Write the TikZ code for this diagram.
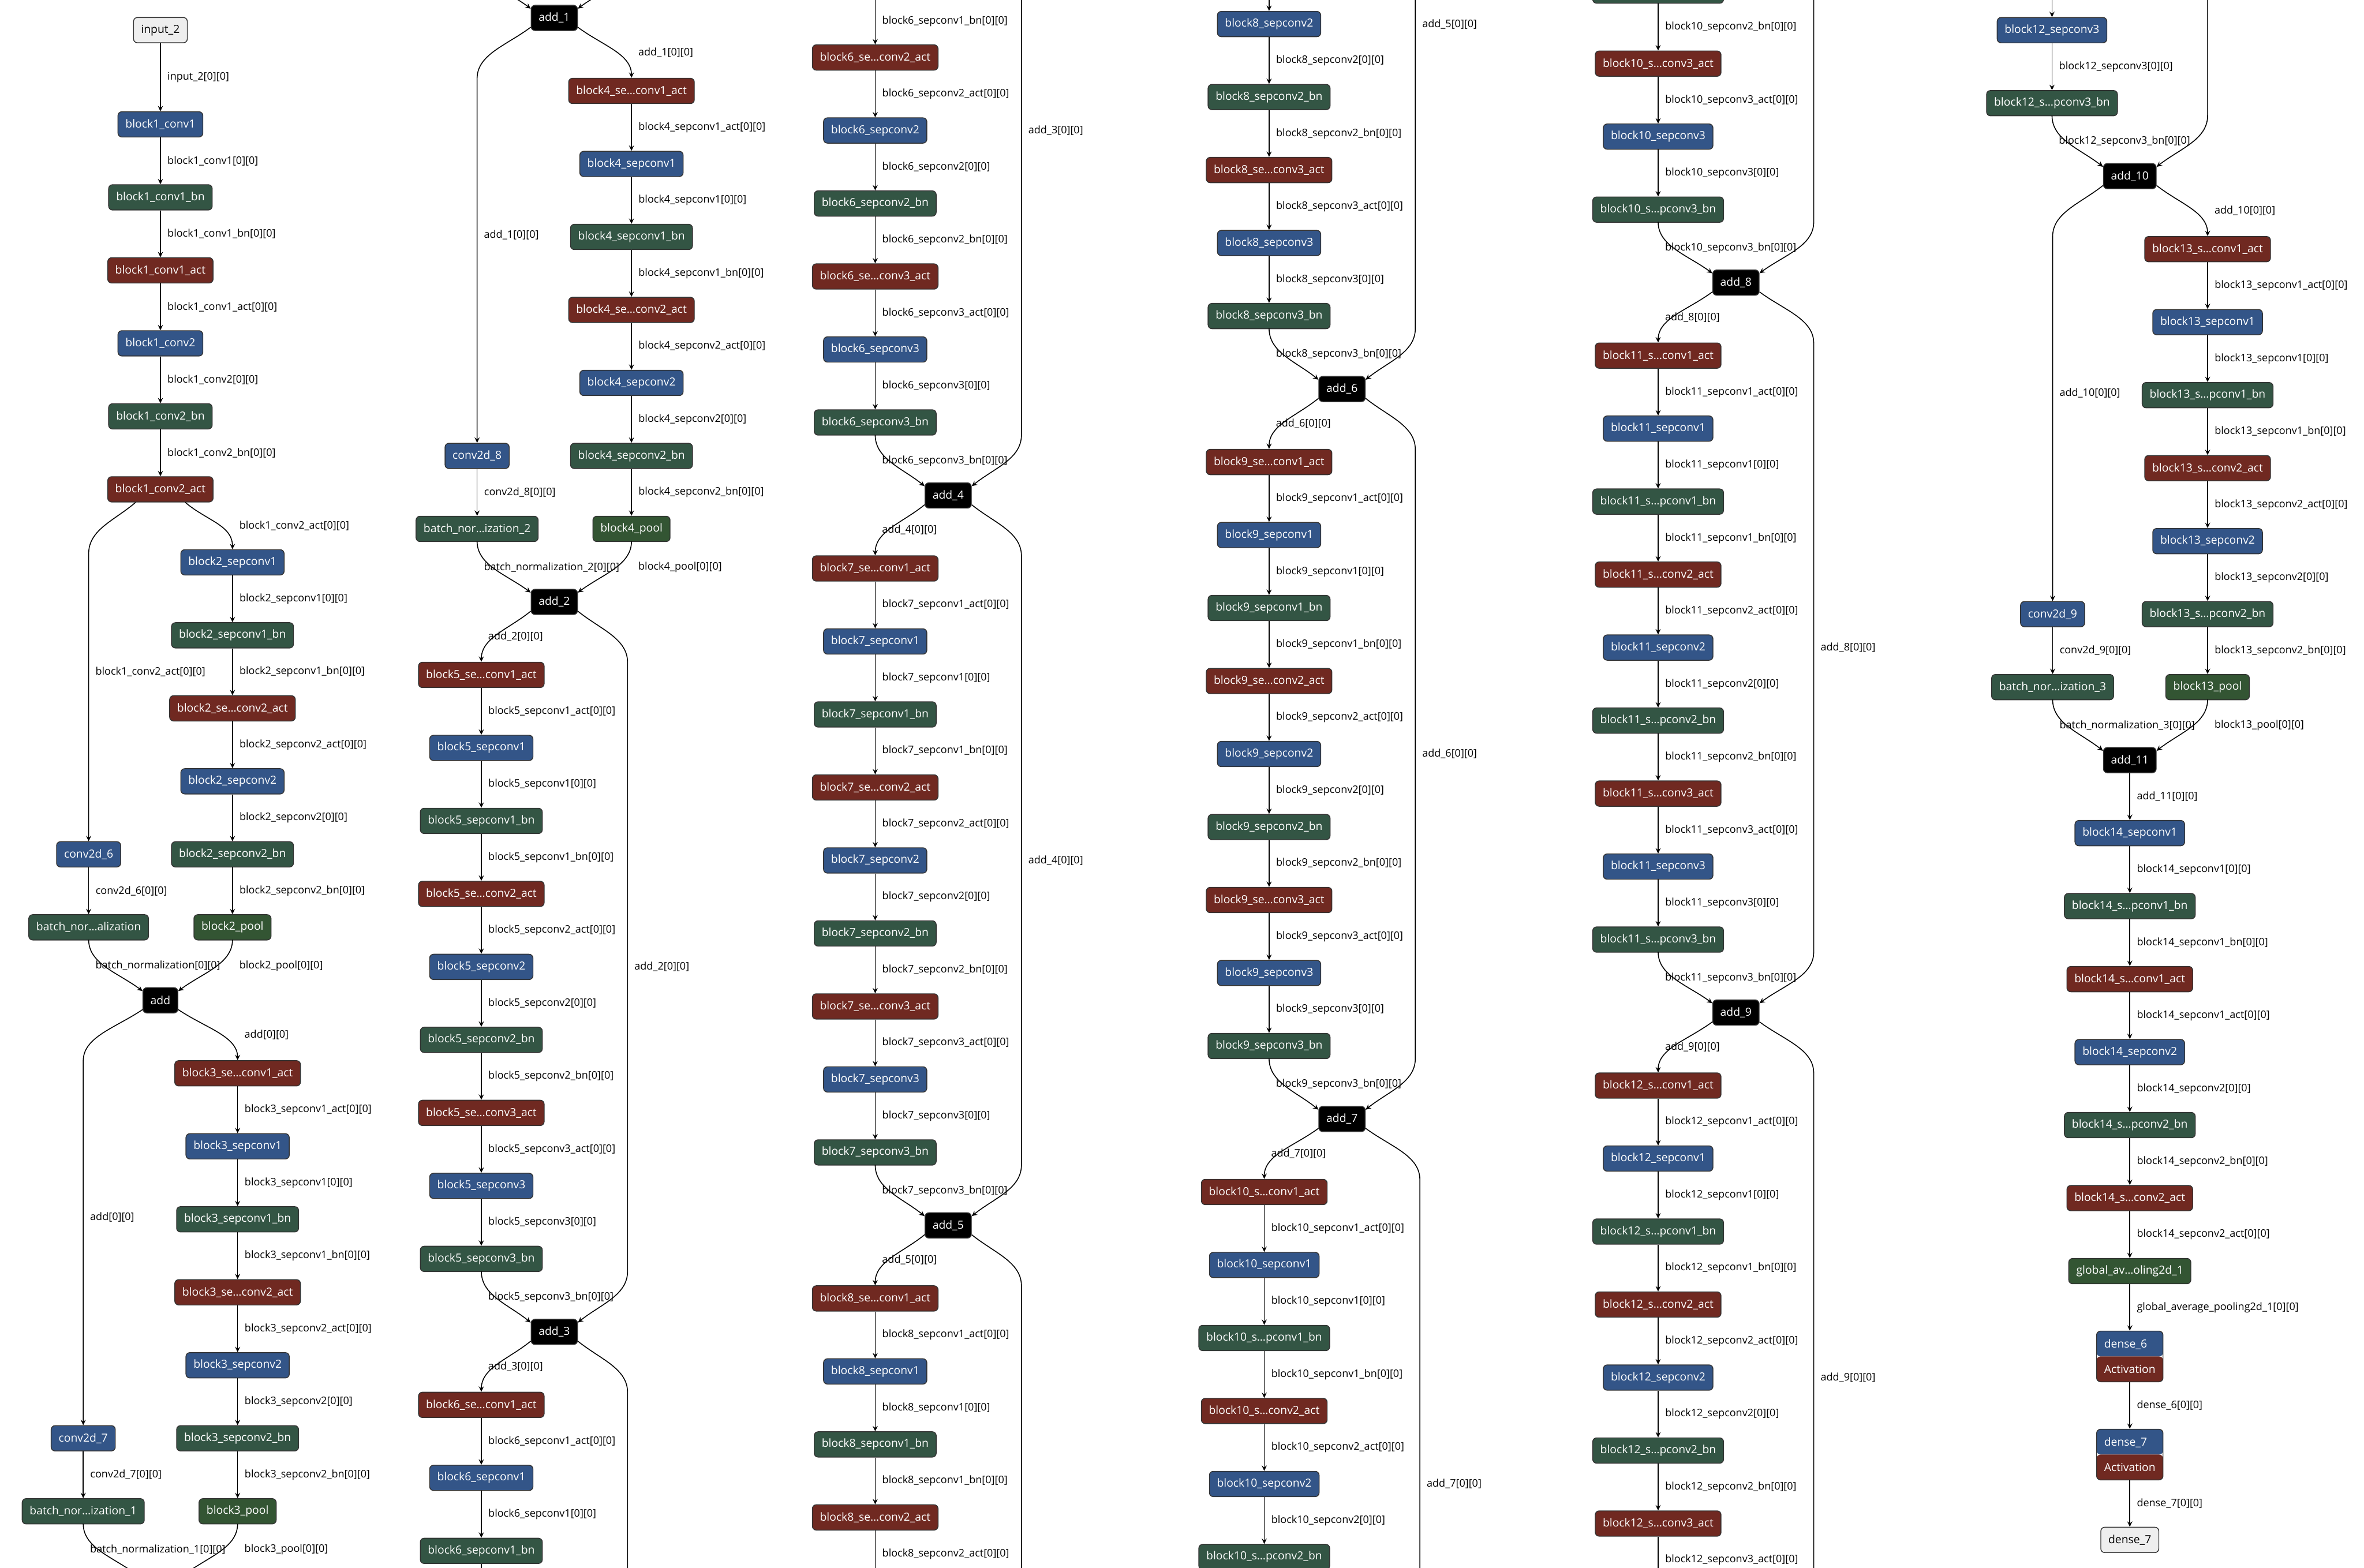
\documentclass[tikz,border=0pt]{standalone}
\usepackage{fontspec}
\setmainfont{Open Sans}
\usetikzlibrary{calc,arrows.meta}

\definecolor{layercol}{RGB}{51,85,136}
\definecolor{actcol}{RGB}{112,41,33}
\definecolor{normcol}{RGB}{51,85,68}
\definecolor{poolcol}{RGB}{51,85,51}
\definecolor{iocol}{RGB}{238,238,238}
\definecolor{rimcol}{RGB}{51,51,51}

% row number -> y of the one long graph (cut into six columns)
\newcommand\R[1]{(82.5+48.42*(#1))}

\tikzset{
  op/.style={rounded corners=2.6pt, draw=rimcol, line width=0.55pt, text=white,
    minimum height=16.8pt, inner xsep=5pt, inner ysep=0pt,
    font=\fontsize{7.4pt}{9pt}\selectfont},
  layer/.style={op, fill=layercol},
  act/.style={op, fill=actcol},
  norm/.style={op, fill=normcol},
  pool/.style={op, fill=poolcol},
  addop/.style={op, fill=black},
  io/.style={op, fill=iocol, text=black},
  dense/.style={op, minimum height=33.6pt, align=left,
    font=\fontsize{7.4pt}{16.8pt}\selectfont,
    path picture={
      \fill[layercol] (path picture bounding box.north west) rectangle (path picture bounding box.east);
      \fill[actcol] (path picture bounding box.west) rectangle (path picture bounding box.south east);}},
  link/.style={-{Stealth[length=3.6pt,width=3.4pt,inset=1.3pt]}, line width=0.6pt},
  tag/.style={anchor=west, inner sep=0pt, xshift=4.4pt, font=\fontsize{6.9pt}{9pt}\selectfont},
  next col/.style={shift={(261.25,-1039)}},
  prev col/.style={shift={(-261.25,1039)}},
}

\newcommand\lnk[2]{\draw[link] (#1.south) -- node[tag] {#1[0][0]} (#2.north);}
\newcommand\tagat[2]{\if\relax\detokenize{#2}\relax\else\node[tag] at (#1) {#2};\fi}
\newcommand\spl[3]{%
  \draw[link] (#1) .. controls ($(#1)!.45!(#1-|#2)+(0,12)$) and ($(#2)+(0,-16)$) .. (#2);
  \tagat{$(#2)!.5!(#2|-#1)$}{#3}}
\newcommand\splong[3]{%
  \draw[link] (#1) .. controls ($(#1)!.45!(#1-|#2)+(0,12)$) and ($(#1-|#2)+(0,18)$)
    .. ($(#1-|#2)+(0,34)$) -- (#2);
  \tagat{$(#2)!.5!(#2|-#1)$}{#3}}
\newcommand\mrg[3]{%
  \draw[link] (#1) -- ($(#2-|#1)+(0,-34)$) .. controls ($(#2-|#1)+(0,-18)$)
    and ($(#2)!.45!(#2-|#1)+(0,-12)$) .. (#2);
  \tagat{$(#1)!.5!(#1|-#2)$}{#3}}
\newcommand\bypass[4]{%
  \draw[link] (#1) .. controls ($(#1)!.45!(#1-|#3)+(0,12)$) and ($(#1-|#3)+(0,18)$)
    .. ($(#1-|#3)+(0,34)$) -- ($(#2-|#3)+(0,-34)$) .. controls ($(#2-|#3)+(0,-18)$)
    and ($(#2)!.45!(#2-|#3)+(0,-12)$) .. (#2);
  \tagat{$(#1-|#3)!.5!(#2-|#3)$}{#4}}
\newcommand\corners[1]{%
  \coordinate (#1_nw) at ([yshift=-2.5pt]#1.north west);
  \coordinate (#1_ne) at ([yshift=-2.5pt]#1.north east);
  \coordinate (#1_sw) at ([yshift=2.5pt]#1.south west);
  \coordinate (#1_se) at ([yshift=2.5pt]#1.south east);}

\begin{document}
\catcode`\_=12
\begin{tikzpicture}[x=1pt,y=-1pt]
\useasboundingbox (0,0) rectangle (1568,1040);
\fill[white] (0,0) rectangle (1568,1040);
\clip (0,0) rectangle (1568,1040);

% column 1
\node[io] (input_2) at (106.4,20) {input_2};
\foreach \s/\n/\t [count=\i from 0] in {layer/block1_conv1/block1_conv1,
  norm/block1_conv1_bn/block1_conv1_bn, act/block1_conv1_act/block1_conv1_act,
  layer/block1_conv2/block1_conv2, norm/block1_conv2_bn/block1_conv2_bn,
  act/block1_conv2_act/block1_conv2_act}
  \node[\s] (\n) at (106.4,{\R{\i}}) {\t};
\foreach \s/\n/\t [count=\i from 6] in {layer/block2_sepconv1/block2_sepconv1,
  norm/block2_sepconv1_bn/block2_sepconv1_bn, act/block2_sepconv2_act/block2_se…conv2_act,
  layer/block2_sepconv2/block2_sepconv2, norm/block2_sepconv2_bn/block2_sepconv2_bn,
  pool/block2_pool/block2_pool}
  \node[\s] (\n) at (154.2,{\R{\i}}) {\t};
\node[layer] (conv2d_6) at (58.8,{\R{10}}) {conv2d_6};
\node[norm] (batch_normalization) at (58.8,{\R{11}}) {batch_nor…alization};
\node[addop] (add) at (106.4,{\R{12}}) {add};
\foreach \s/\n/\t [count=\i from 13] in {act/block3_sepconv1_act/block3_se…conv1_act,
  layer/block3_sepconv1/block3_sepconv1, norm/block3_sepconv1_bn/block3_sepconv1_bn,
  act/block3_sepconv2_act/block3_se…conv2_act, layer/block3_sepconv2/block3_sepconv2,
  norm/block3_sepconv2_bn/block3_sepconv2_bn, pool/block3_pool/block3_pool}
  \node[\s] (\n) at (157.6,{\R{\i}}) {\t};
\node[layer] (conv2d_7) at (55.2,{\R{18}}) {conv2d_7};
\node[norm] (batch_normalization_1) at (55.2,{\R{19}}) {batch_nor…ization_1};

% column 2
\begin{scope}[shift={(261.25,-1039)}]
\node[addop] (add_1) at (106.4,{\R{20}}) {add_1};
\foreach \s/\n/\t [count=\i from 21] in {act/block4_sepconv1_act/block4_se…conv1_act,
  layer/block4_sepconv1/block4_sepconv1, norm/block4_sepconv1_bn/block4_sepconv1_bn,
  act/block4_sepconv2_act/block4_se…conv2_act, layer/block4_sepconv2/block4_sepconv2,
  norm/block4_sepconv2_bn/block4_sepconv2_bn, pool/block4_pool/block4_pool}
  \node[\s] (\n) at (157.6,{\R{\i}}) {\t};
\node[layer] (conv2d_8) at (55.2,{\R{26}}) {conv2d_8};
\node[norm] (batch_normalization_2) at (55.2,{\R{27}}) {batch_nor…ization_2};
\node[addop] (add_2) at (106.4,{\R{28}}) {add_2};
\foreach \s/\n/\t [count=\i from 29] in {act/block5_sepconv1_act/block5_se…conv1_act,
  layer/block5_sepconv1/block5_sepconv1, norm/block5_sepconv1_bn/block5_sepconv1_bn,
  act/block5_sepconv2_act/block5_se…conv2_act, layer/block5_sepconv2/block5_sepconv2,
  norm/block5_sepconv2_bn/block5_sepconv2_bn, act/block5_sepconv3_act/block5_se…conv3_act,
  layer/block5_sepconv3/block5_sepconv3, norm/block5_sepconv3_bn/block5_sepconv3_bn}
  \node[\s] (\n) at (58,{\R{\i}}) {\t};
\node[addop] (add_3) at (106.4,{\R{38}}) {add_3};
\foreach \s/\n/\t [count=\i from 39] in {act/block6_sepconv1_act/block6_se…conv1_act,
  layer/block6_sepconv1/block6_sepconv1, norm/block6_sepconv1_bn/block6_sepconv1_bn}
  \node[\s] (\n) at (58,{\R{\i}}) {\t};
\coordinate (rail2) at (155,0);
\end{scope}

% column 3
\begin{scope}[shift={(522.5,-2078)}]
\foreach \s/\n/\t [count=\i from 42] in {act/block6_sepconv2_act/block6_se…conv2_act,
  layer/block6_sepconv2/block6_sepconv2, norm/block6_sepconv2_bn/block6_sepconv2_bn,
  act/block6_sepconv3_act/block6_se…conv3_act, layer/block6_sepconv3/block6_sepconv3,
  norm/block6_sepconv3_bn/block6_sepconv3_bn}
  \node[\s] (\n) at (58,{\R{\i}}) {\t};
\node[addop] (add_4) at (106.4,{\R{48}}) {add_4};
\foreach \s/\n/\t [count=\i from 49] in {act/block7_sepconv1_act/block7_se…conv1_act,
  layer/block7_sepconv1/block7_sepconv1, norm/block7_sepconv1_bn/block7_sepconv1_bn,
  act/block7_sepconv2_act/block7_se…conv2_act, layer/block7_sepconv2/block7_sepconv2,
  norm/block7_sepconv2_bn/block7_sepconv2_bn, act/block7_sepconv3_act/block7_se…conv3_act,
  layer/block7_sepconv3/block7_sepconv3, norm/block7_sepconv3_bn/block7_sepconv3_bn}
  \node[\s] (\n) at (58,{\R{\i}}) {\t};
\node[addop] (add_5) at (106.4,{\R{58}}) {add_5};
\foreach \s/\n/\t [count=\i from 59] in {act/block8_sepconv1_act/block8_se…conv1_act,
  layer/block8_sepconv1/block8_sepconv1, norm/block8_sepconv1_bn/block8_sepconv1_bn,
  act/block8_sepconv2_act/block8_se…conv2_act}
  \node[\s] (\n) at (58,{\R{\i}}) {\t};
\coordinate (rail3) at (155,0);
\end{scope}

% column 4
\begin{scope}[shift={(783.75,-3117)}]
\foreach \s/\n/\t [count=\i from 63] in {layer/block8_sepconv2/block8_sepconv2,
  norm/block8_sepconv2_bn/block8_sepconv2_bn, act/block8_sepconv3_act/block8_se…conv3_act,
  layer/block8_sepconv3/block8_sepconv3, norm/block8_sepconv3_bn/block8_sepconv3_bn}
  \node[\s] (\n) at (58,{\R{\i}}) {\t};
\node[addop] (add_6) at (106.4,{\R{68}}) {add_6};
\foreach \s/\n/\t [count=\i from 69] in {act/block9_sepconv1_act/block9_se…conv1_act,
  layer/block9_sepconv1/block9_sepconv1, norm/block9_sepconv1_bn/block9_sepconv1_bn,
  act/block9_sepconv2_act/block9_se…conv2_act, layer/block9_sepconv2/block9_sepconv2,
  norm/block9_sepconv2_bn/block9_sepconv2_bn, act/block9_sepconv3_act/block9_se…conv3_act,
  layer/block9_sepconv3/block9_sepconv3, norm/block9_sepconv3_bn/block9_sepconv3_bn}
  \node[\s] (\n) at (58,{\R{\i}}) {\t};
\node[addop] (add_7) at (106.4,{\R{78}}) {add_7};
\foreach \s/\n/\t [count=\i from 79] in {act/block10_sepconv1_act/block10_s…conv1_act,
  layer/block10_sepconv1/block10_sepconv1, norm/block10_sepconv1_bn/block10_s…pconv1_bn,
  act/block10_sepconv2_act/block10_s…conv2_act, layer/block10_sepconv2/block10_sepconv2,
  norm/block10_sepconv2_bn/block10_s…pconv2_bn}
  \node[\s] (\n) at (54.8,{\R{\i}}) {\t};
\coordinate (rail4a) at (155,0);
\coordinate (rail4b) at (158,0);
\end{scope}

% column 5
\begin{scope}[shift={(1045,-4156)}]
\node[norm] (block10_cut) at (54.8,{\R{84}}) {\phantom{block10_s…pconv2_bn}};
\foreach \s/\n/\t [count=\i from 85] in {act/block10_sepconv3_act/block10_s…conv3_act,
  layer/block10_sepconv3/block10_sepconv3, norm/block10_sepconv3_bn/block10_s…pconv3_bn}
  \node[\s] (\n) at (54.8,{\R{\i}}) {\t};
\node[addop] (add_8) at (106.4,{\R{88}}) {add_8};
\foreach \s/\n/\t [count=\i from 89] in {act/block11_sepconv1_act/block11_s…conv1_act,
  layer/block11_sepconv1/block11_sepconv1, norm/block11_sepconv1_bn/block11_s…pconv1_bn,
  act/block11_sepconv2_act/block11_s…conv2_act, layer/block11_sepconv2/block11_sepconv2,
  norm/block11_sepconv2_bn/block11_s…pconv2_bn, act/block11_sepconv3_act/block11_s…conv3_act,
  layer/block11_sepconv3/block11_sepconv3, norm/block11_sepconv3_bn/block11_s…pconv3_bn}
  \node[\s] (\n) at (54.8,{\R{\i}}) {\t};
\node[addop] (add_9) at (106.4,{\R{98}}) {add_9};
\foreach \s/\n/\t [count=\i from 99] in {act/block12_sepconv1_act/block12_s…conv1_act,
  layer/block12_sepconv1/block12_sepconv1, norm/block12_sepconv1_bn/block12_s…pconv1_bn,
  act/block12_sepconv2_act/block12_s…conv2_act, layer/block12_sepconv2/block12_sepconv2,
  norm/block12_sepconv2_bn/block12_s…pconv2_bn, act/block12_sepconv3_act/block12_s…conv3_act}
  \node[\s] (\n) at (54.8,{\R{\i}}) {\t};
\coordinate (rail5) at (158,0);
\end{scope}

% column 6
\begin{scope}[shift={(1306.25,-5195)}]
\foreach \s/\n/\t [count=\i from 106] in {layer/block12_sepconv3/block12_sepconv3,
  norm/block12_sepconv3_bn/block12_s…pconv3_bn}
  \node[\s] (\n) at (54.8,{\R{\i}}) {\t};
\node[addop] (add_10) at (106.4,{\R{108}}) {add_10};
\foreach \s/\n/\t [count=\i from 109] in {act/block13_sepconv1_act/block13_s…conv1_act,
  layer/block13_sepconv1/block13_sepconv1, norm/block13_sepconv1_bn/block13_s…pconv1_bn,
  act/block13_sepconv2_act/block13_s…conv2_act, layer/block13_sepconv2/block13_sepconv2,
  norm/block13_sepconv2_bn/block13_s…pconv2_bn, pool/block13_pool/block13_pool}
  \node[\s] (\n) at (158,{\R{\i}}) {\t};
\node[layer] (conv2d_9) at (55.2,{\R{114}}) {conv2d_9};
\node[norm] (batch_normalization_3) at (55.2,{\R{115}}) {batch_nor…ization_3};
\node[addop] (add_11) at (106.4,{\R{116}}) {add_11};
\foreach \s/\n/\t [count=\i from 117] in {layer/block14_sepconv1/block14_sepconv1,
  norm/block14_sepconv1_bn/block14_s…pconv1_bn, act/block14_sepconv1_act/block14_s…conv1_act,
  layer/block14_sepconv2/block14_sepconv2, norm/block14_sepconv2_bn/block14_s…pconv2_bn,
  act/block14_sepconv2_act/block14_s…conv2_act,
  pool/global_average_pooling2d_1/global_av…oling2d_1}
  \node[\s] (\n) at (106.4,{\R{\i}}) {\t};
\node[dense] (dense_6) at (106.4,{\R{123}+56.6}) {dense_6\\Activation};
\node[dense] (dense_7) at (106.4,{\R{123}+121.7}) {dense_7\\Activation};
\node[io] (dense_7_out) at (106.4,{\R{123}+178.3}) {dense_7};
\coordinate (rail6) at (158,0);
\end{scope}

% connectors
\foreach \a in {add,add_1,add_2,add_3,add_4,add_5,add_6,add_7,add_8,add_9,add_10,add_11}
  {\corners{\a}}
\coordinate (add_1_nw_p) at ([prev col]add_1_nw);
\coordinate (add_1_ne_p) at ([prev col]add_1_ne);
\coordinate (bn1_n) at ([next col]batch_normalization_1.south);
\coordinate (pool3_n) at ([next col]block3_pool.south);
\coordinate (add_4_ne_p) at ([prev col]add_4_ne);
\coordinate (add_3_se_n) at ([next col]add_3_se);
\coordinate (add_6_ne_p) at ([prev col]add_6_ne);
\coordinate (add_5_se_n) at ([next col]add_5_se);
\coordinate (add_8_ne_p) at ([prev col]add_8_ne);
\coordinate (add_7_se_n) at ([next col]add_7_se);
\coordinate (add_10_ne_p) at ([prev col]add_10_ne);
\coordinate (add_9_se_n) at ([next col]add_9_se);
\coordinate (b1_sw) at ([xshift=-16.5pt]block1_conv2_act.south);
\coordinate (b1_se) at ([xshift=16.5pt]block1_conv2_act.south);

\foreach \a/\b in {input_2/block1_conv1, block1_conv1/block1_conv1_bn,
  block1_conv1_bn/block1_conv1_act, block1_conv1_act/block1_conv2,
  block1_conv2/block1_conv2_bn, block1_conv2_bn/block1_conv2_act,
  block2_sepconv1/block2_sepconv1_bn, block2_sepconv1_bn/block2_sepconv2_act,
  block2_sepconv2_act/block2_sepconv2, block2_sepconv2/block2_sepconv2_bn,
  block2_sepconv2_bn/block2_pool, conv2d_6/batch_normalization,
  block3_sepconv1_act/block3_sepconv1, block3_sepconv1/block3_sepconv1_bn,
  block3_sepconv1_bn/block3_sepconv2_act, block3_sepconv2_act/block3_sepconv2,
  block3_sepconv2/block3_sepconv2_bn, block3_sepconv2_bn/block3_pool,
  conv2d_7/batch_normalization_1,
  block4_sepconv1_act/block4_sepconv1, block4_sepconv1/block4_sepconv1_bn,
  block4_sepconv1_bn/block4_sepconv2_act, block4_sepconv2_act/block4_sepconv2,
  block4_sepconv2/block4_sepconv2_bn, block4_sepconv2_bn/block4_pool,
  conv2d_8/batch_normalization_2,
  block5_sepconv1_act/block5_sepconv1, block5_sepconv1/block5_sepconv1_bn,
  block5_sepconv1_bn/block5_sepconv2_act, block5_sepconv2_act/block5_sepconv2,
  block5_sepconv2/block5_sepconv2_bn, block5_sepconv2_bn/block5_sepconv3_act,
  block5_sepconv3_act/block5_sepconv3, block5_sepconv3/block5_sepconv3_bn,
  block6_sepconv1_act/block6_sepconv1, block6_sepconv1/block6_sepconv1_bn,
  block6_sepconv2_act/block6_sepconv2, block6_sepconv2/block6_sepconv2_bn,
  block6_sepconv2_bn/block6_sepconv3_act, block6_sepconv3_act/block6_sepconv3,
  block6_sepconv3/block6_sepconv3_bn,
  block7_sepconv1_act/block7_sepconv1, block7_sepconv1/block7_sepconv1_bn,
  block7_sepconv1_bn/block7_sepconv2_act, block7_sepconv2_act/block7_sepconv2,
  block7_sepconv2/block7_sepconv2_bn, block7_sepconv2_bn/block7_sepconv3_act,
  block7_sepconv3_act/block7_sepconv3, block7_sepconv3/block7_sepconv3_bn,
  block8_sepconv1_act/block8_sepconv1, block8_sepconv1/block8_sepconv1_bn,
  block8_sepconv1_bn/block8_sepconv2_act,
  block8_sepconv2/block8_sepconv2_bn, block8_sepconv2_bn/block8_sepconv3_act,
  block8_sepconv3_act/block8_sepconv3, block8_sepconv3/block8_sepconv3_bn,
  block9_sepconv1_act/block9_sepconv1, block9_sepconv1/block9_sepconv1_bn,
  block9_sepconv1_bn/block9_sepconv2_act, block9_sepconv2_act/block9_sepconv2,
  block9_sepconv2/block9_sepconv2_bn, block9_sepconv2_bn/block9_sepconv3_act,
  block9_sepconv3_act/block9_sepconv3, block9_sepconv3/block9_sepconv3_bn,
  block10_sepconv1_act/block10_sepconv1, block10_sepconv1/block10_sepconv1_bn,
  block10_sepconv1_bn/block10_sepconv2_act, block10_sepconv2_act/block10_sepconv2,
  block10_sepconv2/block10_sepconv2_bn,
  block10_sepconv3_act/block10_sepconv3, block10_sepconv3/block10_sepconv3_bn,
  block11_sepconv1_act/block11_sepconv1, block11_sepconv1/block11_sepconv1_bn,
  block11_sepconv1_bn/block11_sepconv2_act, block11_sepconv2_act/block11_sepconv2,
  block11_sepconv2/block11_sepconv2_bn, block11_sepconv2_bn/block11_sepconv3_act,
  block11_sepconv3_act/block11_sepconv3, block11_sepconv3/block11_sepconv3_bn,
  block12_sepconv1_act/block12_sepconv1, block12_sepconv1/block12_sepconv1_bn,
  block12_sepconv1_bn/block12_sepconv2_act, block12_sepconv2_act/block12_sepconv2,
  block12_sepconv2/block12_sepconv2_bn, block12_sepconv2_bn/block12_sepconv3_act,
  block12_sepconv3/block12_sepconv3_bn,
  block13_sepconv1_act/block13_sepconv1, block13_sepconv1/block13_sepconv1_bn,
  block13_sepconv1_bn/block13_sepconv2_act, block13_sepconv2_act/block13_sepconv2,
  block13_sepconv2/block13_sepconv2_bn, block13_sepconv2_bn/block13_pool,
  conv2d_9/batch_normalization_3,
  add_11/block14_sepconv1, block14_sepconv1/block14_sepconv1_bn,
  block14_sepconv1_bn/block14_sepconv1_act, block14_sepconv1_act/block14_sepconv2,
  block14_sepconv2/block14_sepconv2_bn, block14_sepconv2_bn/block14_sepconv2_act,
  block14_sepconv2_act/global_average_pooling2d_1,
  global_average_pooling2d_1/dense_6, dense_6/dense_7, dense_7/dense_7_out}
  {\lnk{\a}{\b}}

% column 1
\spl{b1_se}{block2_sepconv1.north}{block1_conv2_act[0][0]}
\splong{b1_sw}{conv2d_6.north}{block1_conv2_act[0][0]}
\mrg{batch_normalization.south}{add_nw}{batch_normalization[0][0]}
\mrg{block2_pool.south}{add_ne}{block2_pool[0][0]}
\spl{add_se}{block3_sepconv1_act.north}{add[0][0]}
\splong{add_sw}{conv2d_7.north}{add[0][0]}
\mrg{batch_normalization_1.south}{add_1_nw_p}{batch_normalization_1[0][0]}
\mrg{block3_pool.south}{add_1_ne_p}{block3_pool[0][0]}

% column 2
\mrg{bn1_n}{add_1_nw}{}
\mrg{pool3_n}{add_1_ne}{}
\spl{add_1_se}{block4_sepconv1_act.north}{add_1[0][0]}
\splong{add_1_sw}{conv2d_8.north}{add_1[0][0]}
\mrg{batch_normalization_2.south}{add_2_nw}{batch_normalization_2[0][0]}
\mrg{block4_pool.south}{add_2_ne}{block4_pool[0][0]}
\spl{add_2_sw}{block5_sepconv1_act.north}{add_2[0][0]}
\bypass{add_2_se}{add_3_ne}{rail2}{add_2[0][0]}
\mrg{block5_sepconv3_bn.south}{add_3_nw}{block5_sepconv3_bn[0][0]}
\spl{add_3_sw}{block6_sepconv1_act.north}{add_3[0][0]}
\bypass{add_3_se}{add_4_ne_p}{rail2}{}
\draw[link] (block6_sepconv1_bn.south) -- ([prev col]block6_sepconv2_act.north);

% column 3
\draw[link] ([next col]block6_sepconv1_bn.south) -- node[tag] {block6_sepconv1_bn[0][0]} (block6_sepconv2_act.north);
\bypass{add_3_se_n}{add_4_ne}{rail3}{add_3[0][0]}
\mrg{block6_sepconv3_bn.south}{add_4_nw}{block6_sepconv3_bn[0][0]}
\spl{add_4_sw}{block7_sepconv1_act.north}{add_4[0][0]}
\bypass{add_4_se}{add_5_ne}{rail3}{add_4[0][0]}
\mrg{block7_sepconv3_bn.south}{add_5_nw}{block7_sepconv3_bn[0][0]}
\spl{add_5_sw}{block8_sepconv1_act.north}{add_5[0][0]}
\bypass{add_5_se}{add_6_ne_p}{rail3}{}
\draw[link] (block8_sepconv2_act.south) -- node[tag] {block8_sepconv2_act[0][0]} ([prev col]block8_sepconv2.north);

% column 4
\draw[link] ([next col]block8_sepconv2_act.south) -- (block8_sepconv2.north);
\bypass{add_5_se_n}{add_6_ne}{rail4a}{add_5[0][0]}
\mrg{block8_sepconv3_bn.south}{add_6_nw}{block8_sepconv3_bn[0][0]}
\spl{add_6_sw}{block9_sepconv1_act.north}{add_6[0][0]}
\bypass{add_6_se}{add_7_ne}{rail4a}{add_6[0][0]}
\mrg{block9_sepconv3_bn.south}{add_7_nw}{block9_sepconv3_bn[0][0]}
\spl{add_7_sw}{block10_sepconv1_act.north}{add_7[0][0]}
\bypass{add_7_se}{add_8_ne_p}{rail4b}{add_7[0][0]}

% column 5
\bypass{add_7_se_n}{add_8_ne}{rail5}{}
\draw[link] (block10_cut.south) -- node[tag] {block10_sepconv2_bn[0][0]} (block10_sepconv3_act.north);
\mrg{block10_sepconv3_bn.south}{add_8_nw}{block10_sepconv3_bn[0][0]}
\spl{add_8_sw}{block11_sepconv1_act.north}{add_8[0][0]}
\bypass{add_8_se}{add_9_ne}{rail5}{add_8[0][0]}
\mrg{block11_sepconv3_bn.south}{add_9_nw}{block11_sepconv3_bn[0][0]}
\spl{add_9_sw}{block12_sepconv1_act.north}{add_9[0][0]}
\bypass{add_9_se}{add_10_ne_p}{rail5}{add_9[0][0]}
\draw[link] (block12_sepconv3_act.south) -- node[tag] {block12_sepconv3_act[0][0]} ([prev col]block12_sepconv3.north);

% column 6
\draw[link] ([next col]block12_sepconv3_act.south) -- (block12_sepconv3.north);
\bypass{add_9_se_n}{add_10_ne}{rail6}{}
\mrg{block12_sepconv3_bn.south}{add_10_nw}{block12_sepconv3_bn[0][0]}
\spl{add_10_se}{block13_sepconv1_act.north}{add_10[0][0]}
\splong{add_10_sw}{conv2d_9.north}{add_10[0][0]}
\mrg{batch_normalization_3.south}{add_11_nw}{batch_normalization_3[0][0]}
\mrg{block13_pool.south}{add_11_ne}{block13_pool[0][0]}
\end{tikzpicture}
\end{document}
